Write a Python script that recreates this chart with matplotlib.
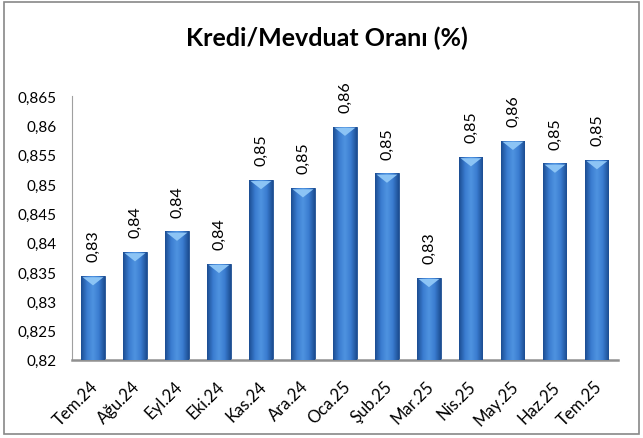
import numpy as np
import matplotlib
matplotlib.use('Agg')
import matplotlib.pyplot as plt
import matplotlib.transforms as mtransforms
from matplotlib.ticker import FuncFormatter, MultipleLocator
from matplotlib.patches import Rectangle
from matplotlib.colors import LinearSegmentedColormap

months = ['Tem.24', 'Ağu.24', 'Eyl.24', 'Eki.24', 'Kas.24', 'Ara.24', 'Oca.25',
          'Şub.25', 'Mar.25', 'Nis.25', 'May.25', 'Haz.25', 'Tem.25']
ratio = [0.8343, 0.8384, 0.8419, 0.8364, 0.8507, 0.8493, 0.8598,
         0.8518, 0.8340, 0.8546, 0.8574, 0.8535, 0.8541]
labels = ['0,83', '0,84', '0,84', '0,84', '0,85', '0,85', '0,86',
          '0,85', '0,83', '0,85', '0,86', '0,85', '0,85']

plt.rcParams['font.family'] = ['Lato', 'DejaVu Sans']

fig = plt.figure(figsize=(6.43, 4.39), dpi=100)
ax = fig.add_axes([0.112, 0.178, 0.849, 0.601])

x = np.arange(len(months))
bars = ax.bar(x, np.array(ratio) - 0.82, bottom=0.82, width=0.55,
              color='#3b7bd0', edgecolor='#1f4f8f', linewidth=0.6, zorder=2)

# horizontal shading inside each bar
cmap = LinearSegmentedColormap.from_list('bar', ['#1c4d92', '#3a7cd0', '#4f93e0', '#3a7cd0', '#1c4d92'])
grad = np.linspace(0, 1, 64).reshape(1, -1)
for b in bars:
    im = ax.imshow(grad, cmap=cmap, aspect='auto', zorder=3,
                   extent=[b.get_x(), b.get_x() + b.get_width(), b.get_y(), b.get_y() + b.get_height()])
    im.set_clip_path(b)
    # light triangle at top
    w = b.get_width()
    top = b.get_y() + b.get_height()
    ax.fill([b.get_x() + 0.05 * w, b.get_x() + 0.95 * w, b.get_x() + 0.5 * w],
            [top - 0.0002, top - 0.0002, top - 0.0016], color='#8cc4f5', zorder=4, lw=0)

for xi, v, lab in zip(x, ratio, labels):
    ax.text(xi, v + 0.0025, lab, rotation=90, ha='center', va='bottom', fontsize=11.5, zorder=5)

ax.set_xlim(-0.5, len(months) - 0.5)
ax.set_ylim(0.82, 0.865)
ax.yaxis.set_major_locator(MultipleLocator(0.005))
ax.yaxis.set_major_formatter(FuncFormatter(lambda v, p: ('%g' % round(v, 3)).replace('.', ',')))
ax.set_xticks(x)
ax.set_xticklabels(months, rotation=45, ha='right', va='top', rotation_mode='anchor')
ax.tick_params(axis='both', length=0)
ax.tick_params(axis='x', pad=13, labelsize=12)
ax.tick_params(axis='y', pad=11, labelsize=11)
shift = mtransforms.ScaledTranslation(-3 / 100, 0, fig.dpi_scale_trans)
for t in ax.get_xticklabels():
    t.set_transform(t.get_transform() + shift)

for s in ['top', 'right']:
    ax.spines[s].set_visible(False)
ax.spines['left'].set_color('#a0a0a0')
ax.spines['bottom'].set_color('#909090')
ax.spines['bottom'].set_linewidth(1.8)
ax.set_facecolor('none')

fig.text(0.509, 0.913, 'Kredi/Mevduat Oranı (%)', ha='center', va='center',
         fontsize=18, fontweight='bold')
fig.patches.append(Rectangle((0.006, 0.008), 0.988, 0.985, transform=fig.transFigure,
                             fill=False, edgecolor='#888888', linewidth=1.2))

fig.savefig('out.png', dpi=100)
